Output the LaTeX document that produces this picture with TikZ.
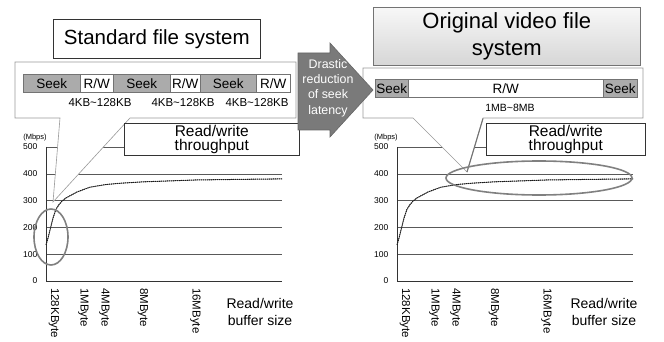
\documentclass[tikz,border=0pt]{standalone}
\usepackage{fontspec}
\setmainfont{Liberation Sans}
\begin{document}
\begin{tikzpicture}[x=1pt,y=-1pt,
  box/.style={draw=black!80, fill=white, line width=0.6pt, inner sep=0pt},
  seekcell/.style={draw=black!55, fill=black!33, line width=0.5pt, inner sep=0pt, anchor=north west, font=\fontsize{13.5}{14}\selectfont},
  rwcell/.style={draw=black!55, fill=white, line width=0.5pt, inner sep=0pt, anchor=north west, font=\fontsize{13.5}{14}\selectfont},
  sizelab/.style={inner sep=0pt, font=\fontsize{11.5}{12}\selectfont},
  gridln/.style={draw=black!65, line width=0.5pt},
  callout/.style={draw=black!40, fill=white, line width=0.6pt},
  ring/.style={draw=black!50, line width=1.6pt},
  ticklab/.style={font=\fontsize{8.5}{9}\selectfont, anchor=east, inner sep=0pt},
  unitlab/.style={font=\fontsize{7.5}{8}\selectfont, inner sep=0pt},
  xlab/.style={font=\fontsize{11.5}{12}\selectfont, rotate=-90, anchor=west, inner sep=0pt},
  axlab/.style={font=\fontsize{14}{17}\selectfont, align=center, inner sep=0pt},
  tpbox/.style={box, align=center, font=\fontsize{15.5}{14.5}\selectfont},
  curve/.style={draw=black!90, line width=1pt, densely dotted},
  chartgrid/.pic={
    \begin{scope}[y=0.268pt]
      \foreach \v in {100,200,300,400,500} {\draw[gridln] (0,\v) -- (236,\v);}
      \draw[draw=black!80, line width=0.6pt] (0,500) -- (0,0) -- (236,0);
      \foreach \v in {0,100,200,300,400,500} {\node[ticklab] (-t\v) at (-8.5,\v) {\v};}
      \node[unitlab] (-unit) at (-11,537) {(Mbps)};
    \end{scope}
    \node[xlab] (-x1) at (8,7) {128KByte};
    \node[xlab] (-x2) at (37.5,7) {1MByte};
    \node[xlab] (-x3) at (58.5,7) {4MByte};
    \node[xlab] (-x4) at (97,7) {8MByte};
    \node[xlab] (-x5) at (149.5,7) {16MByte};
  },
  chartcurve/.pic={
    \begin{scope}[y=0.268pt]
      \draw[draw=black!75, line width=0.6pt] (0,135) -- (2,160) -- (4,190) -- (7,235) -- (10,268) -- (13,285) -- (16,298) -- (20,310) -- (25,320) -- (31,332) -- (38,342) -- (44,350) -- (52,355) -- (60,360) -- (75,365) -- (97,370) -- (120,373) -- (150,377) -- (190,379) -- (236,381);
      \draw[curve] (0,135) -- (2,160) -- (4,190) -- (7,235) -- (10,268) -- (13,285) -- (16,298) -- (20,310) -- (25,320) -- (31,332) -- (38,342) -- (44,350) -- (52,355) -- (60,360) -- (75,365) -- (97,370) -- (120,373) -- (150,377) -- (190,379) -- (236,381);
    \end{scope}
  }
]
\useasboundingbox (0,0) rectangle (664,342);

% charts (grid, axes, labels)
\pic (L) at (46,281) {chartgrid};
\pic (R) at (397,281) {chartgrid};
\node[axlab] (Lxl) at (260,311.5) {Read/write\\buffer size};
\node[axlab] (Rxl) at (604,311.5) {Read/write\\buffer size};

% callouts
\draw[callout] (15,62) -- (296,62) -- (296,118) -- (130,118) -- (53,202) -- (60,118) -- (15,118) -- cycle;
\draw[callout] (363,68) -- (643,68) -- (643,118) -- (483,118) -- (467,172) -- (413,118) -- (363,118) -- cycle;
\draw[draw=black!55, line width=1.1pt] (483,118.5) -- (467,172);

% curves
\pic (LC) at (46,281) {chartcurve};
\pic (RC) at (397,281) {chartcurve};

% highlight rings
\draw[ring] (51,237) ellipse [x radius=17, y radius=28];
\draw[ring] (539,178) ellipse [x radius=93, y radius=17];

% throughput boxes
\node[tpbox, minimum width=175, minimum height=32, anchor=north west] (Ltp) at (124,123) {Read/write\\throughput};
\node[tpbox, minimum width=159, minimum height=32, anchor=north west] (Rtp) at (486,123) {Read/write\\throughput};

% seek bars (left)
\node[seekcell, minimum width=57, minimum height=18] (ls1) at (23,74) {Seek};
\node[rwcell, minimum width=33, minimum height=18] (lr1) at (80,74) {R/W};
\node[seekcell, minimum width=57, minimum height=18] (ls2) at (113,74) {Seek};
\node[rwcell, minimum width=30, minimum height=18] (lr2) at (170,74) {R/W};
\node[seekcell, minimum width=56, minimum height=18] (ls3) at (200,74) {Seek};
\node[rwcell, minimum width=34, minimum height=18] (lr3) at (256,74) {R/W};
\node[sizelab] (lz1) at (100,103) {4KB\textasciitilde128KB};
\node[sizelab] (lz2) at (183,103) {4KB\textasciitilde128KB};
\node[sizelab] (lz3) at (257,103) {4KB\textasciitilde128KB};

% seek bar (right)
\node[seekcell, minimum width=33, minimum height=18] (rs1) at (375,79) {Seek};
\node[rwcell, minimum width=195, minimum height=18] (rr1) at (408,79) {R/W};
\node[seekcell, minimum width=34, minimum height=18] (rs2) at (603,79) {Seek};
\node[sizelab, font=\fontsize{10.5}{11}\selectfont] (rz1) at (510,108) {1MB\textasciitilde8MB};

% titles
\node[box, minimum width=207, minimum height=39, anchor=north west, font=\fontsize{20.5}{24}\selectfont] (t1) at (53,19) {Standard file system};
\node[draw=black!55, line width=0.6pt, top color=black!3, bottom color=black!16, minimum width=267, minimum height=58, anchor=north west, align=center, inner sep=0pt, font=\fontsize{22}{27}\selectfont] (t2) at (373,7) {Original video file\\system};

% big arrow
\draw[draw=black!60, fill=black!52, line width=0.6pt] (298,53) -- (330,53) -- (330,43) -- (373,90) -- (330,137) -- (330,130) -- (298,130) -- cycle;
\node[text=white, align=center, inner sep=0pt, font=\fontsize{12.4}{15.3}\selectfont] (arrowtxt) at (328,88) {Drastic\\reduction\\of seek\\latency};
\end{tikzpicture}
\end{document}
